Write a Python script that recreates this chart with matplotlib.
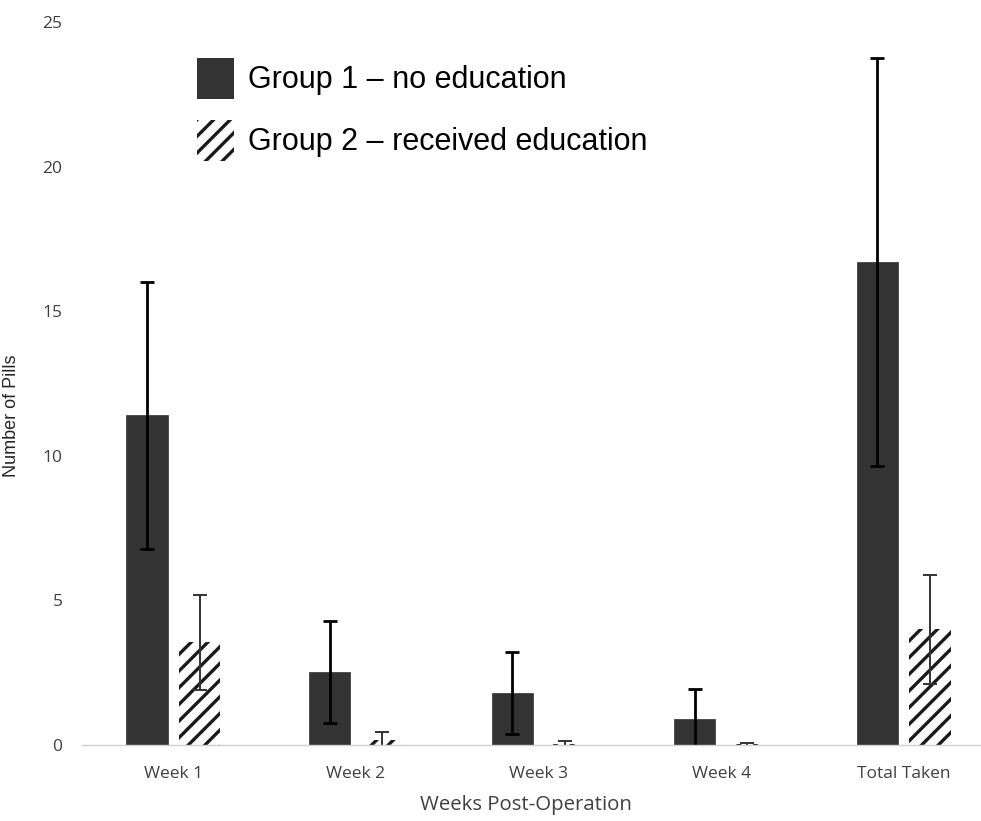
import matplotlib
matplotlib.use("Agg")
import matplotlib.pyplot as plt
import numpy as np
from matplotlib.patches import Patch

# データ
categories = ["Week 1", "Week 2", "Week 3", "Week 4", "Total Taken"]
group1_mean = [11.4, 2.53, 1.8, 0.9, 16.7]
group1_err = [4.62, 1.77, 1.41, 1.03, 7.05]
group2_mean = [3.55, 0.17, 0.05, 0.02, 4.0]
group2_err = [1.65, 0.28, 0.09, 0.05, 1.88]

legend_labels = ["Group 1 \u2013 no education", "Group 2 \u2013 received education"]

plt.rcParams["hatch.linewidth"] = 2.4

fig = plt.figure(figsize=(9.81, 8.21), dpi=100)
# 右端は元画像で切れているので図の外まで伸ばす
ax = fig.add_axes([0.0836, 0.0926, 0.9307, 0.8804])

x = np.arange(len(categories))
w = 0.225
off = 0.144

ax.bar(x - off, group1_mean, w, color="#333333", edgecolor="#333333",
       linewidth=0.5,
       yerr=group1_err, error_kw=dict(ecolor="black", elinewidth=2.0,
                                       capsize=5, capthick=2.0),
       zorder=2)
ax.bar(x + off, group2_mean, w, color="white", edgecolor="#1a1a1a",
       linewidth=0, hatch="//", yerr=group2_err,
       error_kw=dict(ecolor="#333333", elinewidth=1.4, capsize=5, capthick=1.4),
       zorder=2)

ax.set_xlim(-0.5, 4.5)
ax.set_ylim(0, 25)
ax.set_yticks([0, 5, 10, 15, 20, 25])
ax.set_xticks(x)
ax.set_xticklabels(categories)

for s in ["top", "right", "left"]:
    ax.spines[s].set_visible(False)
ax.spines["bottom"].set_color("#d0d0d0")
ax.spines["bottom"].set_linewidth(1.0)
ax.tick_params(axis="both", length=0, labelsize=12.5, colors="#404040",
               labelfontfamily="Open Sans")
ax.tick_params(axis="y", pad=14)
ax.tick_params(axis="x", pad=15)

ax.set_ylabel("Number of Pills", fontsize=13, color="#262626",
              family="Liberation Sans")
ax.yaxis.set_label_coords(-0.068, 0.455)
ax.set_xlabel("Weeks Post-Operation", fontsize=14.7, color="#404040",
              family="Open Sans")
ax.xaxis.set_label_coords(0.486, -0.069)

handles = [Patch(facecolor="#333333", edgecolor="none"),
           Patch(facecolor="white", edgecolor="#1a1a1a", linewidth=0, hatch="//")]
fig.legend(handles, legend_labels, loc="upper left",
           bbox_to_anchor=(0.173, 0.963), frameon=False,
           prop=dict(family="Liberation Sans", size=22),
           handlelength=1.2, handleheight=1.7, handletextpad=0.45,
           labelspacing=0.68)

fig.savefig("out.png", dpi=100)
